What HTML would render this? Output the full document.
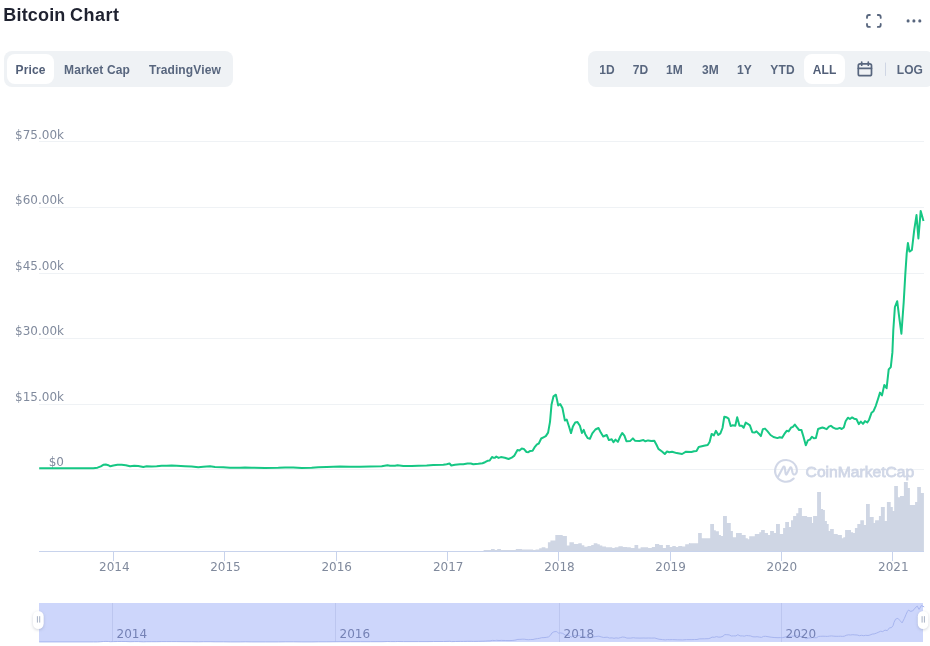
<!DOCTYPE html>
<html lang="en"><head><meta charset="utf-8"><title>Bitcoin Chart</title>
<style>
html,body{margin:0;padding:0;background:#fff;}
body{width:930px;height:646px;position:relative;overflow:hidden;font-family:"Liberation Sans",Arial,sans-serif;}
h2{position:absolute;left:3.3px;top:3px;word-spacing:-0.7px;margin:0;font-size:18px;line-height:24px;font-weight:700;color:#1f2230;letter-spacing:0.17px;white-space:nowrap;}
.grp{position:absolute;top:51px;height:36px;background:#eff2f5;border-radius:8px;}
.grp span{position:absolute;top:3px;height:30px;line-height:32px;letter-spacing:.12px;font-size:12px;font-weight:700;color:#58667e;white-space:nowrap;text-align:center;}
.grp span.sel{background:#fff;border-radius:8px;color:#525f78;}
.tools{position:absolute;left:0;top:0;}
svg text{font-family:"DejaVu Sans","Liberation Sans",sans-serif;font-size:12px;fill:#808a9d;}
svg text.nl{fill:#7582b5;}
</style></head><body>
<h2>Bitcoin <span style="letter-spacing:.5px">Chart</span></h2>
<div class="grp" style="left:4px;width:229px;">
<span class="sel" style="left:3px;width:47px;">Price</span>
<span style="left:50px;width:86px;">Market Cap</span>
<span style="left:136px;width:90px;">TradingView</span>
</div>
<div class="grp" style="left:588px;width:346px;">
<span style="left:4px;width:30px;">1D</span>
<span style="left:37px;width:31px;">7D</span>
<span style="left:70px;width:33px;">1M</span>
<span style="left:105px;width:35px;">3M</span>
<span style="left:141px;width:31px;">1Y</span>
<span style="left:174px;width:41px;">YTD</span>
<span class="sel" style="left:216px;width:41px;">ALL</span>
<span style="left:293.4px;width:57px;">LOG</span>
</div>
<svg class="tools" width="930" height="100" viewBox="0 0 930 100" fill="none" stroke="#58667e" stroke-width="1.7" stroke-linecap="round" stroke-linejoin="round">
<path stroke-width="1.8" d="M867 17.900V17a2 2 0 0 1 2-2H869.900M877.800 15H878.700a2 2 0 0 1 2 2V17.900M880.700 24V24.900a2 2 0 0 1-2 2H877.800M869.900 26.900H869a2 2 0 0 1-2-2V24"/>
<g fill="#58667e" stroke="none"><circle cx="908.1" cy="20.9" r="1.55"/><circle cx="913.9" cy="20.9" r="1.55"/><circle cx="919.8" cy="20.9" r="1.55"/></g>
<rect x="858.3" y="63.800" width="13.200" height="11.900" rx="1.800"/>
<path d="M858.300 68.300h13.200M861.700 62v3.200M868.300 62v3.200"/>
<line x1="885.5" x2="885.5" y1="63" y2="75.5" stroke="#cfd6e4" stroke-width="1"/>
</svg>
<svg style="position:absolute;left:0;top:0" width="930" height="646" viewBox="0 0 930 646">
<g stroke="#eff2f5" stroke-width="1" shape-rendering="crispEdges"><line x1="39" x2="923.5" y1="141.5" y2="141.5"/><line x1="39" x2="923.5" y1="207.5" y2="207.5"/><line x1="39" x2="923.5" y1="273.5" y2="273.5"/><line x1="39" x2="923.5" y1="338.5" y2="338.5"/><line x1="39" x2="923.5" y1="404.5" y2="404.5"/><line x1="39" x2="923.5" y1="469.5" y2="469.5"/></g>
<g><text x="64" y="139" text-anchor="end">$75.00k</text><text x="64" y="204" text-anchor="end">$60.00k</text><text x="64" y="270" text-anchor="end">$45.00k</text><text x="64" y="335" text-anchor="end">$30.00k</text><text x="64" y="401" text-anchor="end">$15.00k</text><text x="64" y="466" text-anchor="end">$0</text></g>
<path d="M483.6 551 V549.9 H491.0 V549.1 H494.7 V549.9 H497.2 V549.1 H500.9 V550.1 H515.8 V549.1 H521.9 V549.4 H533.1 V549.9 H535.5 V549.4 H539.2 V548.2 H541.7 V547.2 H545.4 V548.2 H547.9 V542.2 H550.4 V540.5 H555.3 V535.0 H562.7 V536.0 H566.9 V545.4 H569.4 V542.2 H573.9 V543.9 H578.3 V543.2 H581.8 V545.2 H584.3 V546.7 H587.5 V545.9 H591.2 V544.9 H593.7 V543.2 H597.4 V544.2 H599.8 V545.4 H602.3 V546.4 H606.0 V547.2 H612.2 V547.9 H614.7 V547.2 H618.4 V546.2 H622.8 V546.9 H627.0 V547.2 H630.8 V547.9 H634.5 V544.9 H638.2 V548.4 H640.6 V547.2 H648.1 V547.9 H651.8 V546.9 H655.0 V543.9 H659.2 V544.9 H662.9 V547.9 H665.9 V544.9 H669.8 V546.9 H672.3 V545.9 H675.8 V546.9 H678.2 V545.9 H682.2 V546.4 H685.2 V544.2 H688.9 V543.0 H690.0 V543.2 H698.1 V533.1 H701.8 V538.3 H710.2 V524.1 H714.0 V530.2 H715.8 V531.3 H718.9 V535.1 H720.9 V536.1 H723.0 V516.1 H726.9 V523.1 H730.8 V531.0 H732.9 V537.2 H736.0 V533.1 H741.8 V535.1 H745.7 V538.3 H747.8 V539.3 H749.2 V536.2 H754.8 V534.1 H759.3 V532.2 H761.1 V530.1 H764.8 V533.1 H768.0 V535.1 H770.1 V531.0 H773.9 V533.1 H776.0 V524.1 H779.9 V534.1 H783.1 V528.1 H785.2 V522.1 H789.0 V527.1 H791.0 V520.2 H793.1 V516.1 H796.2 V513.2 H798.3 V508.0 H801.9 V516.1 H805.0 V516.1 H807.1 V517.1 H812.0 V523.1 H813.1 V516.1 H817.1 V492.0 H821.0 V509.0 H823.1 V510.1 H824.9 V521.1 H826.9 V524.1 H828.7 V531.0 H830.1 V529.1 H833.8 V534.1 H837.7 V535.1 H841.9 V538.3 H843.3 V537.2 H845.1 V530.1 H851.0 V532.2 H853.1 V533.1 H854.9 V528.1 H857.3 V524.1 H860.3 V520.2 H863.9 V525.0 H866.0 V504.1 H869.8 V517.1 H873.7 V523.1 H875.1 V520.2 H878.9 V516.1 H880.9 V507.1 H884.8 V521.1 H886.9 V502.1 H890.7 V507.1 H892.8 V511.1 H894.2 V486.0 H897.9 V497.2 H900.0 V496.1 H903.9 V482.1 H907.8 V488.1 H909.9 V505.1 H915.1 V502.1 H917.2 V487.0 H920.9 V493.0 H923.9 V551 Z" fill="#cfd6e4"/>
<path d="M777.7 477.600L783 467.400Q784.100 465.400 784.800 467.600L785.600 473.600Q786 475.600 787 473.700L789.800 468.200Q790.900 466.200 791.600 468.400L792.400 472.300Q793.300 475.400 795.400 474.100Q796.900 472.800 796.900 470.900A10.900 10.900 0 1 0 793.700 478.600" fill="none" stroke="#cdd4e5" stroke-width="2.100" stroke-linecap="round" stroke-linejoin="round" opacity=".92"/>
<text x="805.6" y="476.900" textLength="108.600" lengthAdjust="spacingAndGlyphs" style="font-family:'Liberation Sans',sans-serif;font-weight:400;font-size:15.500px;fill:#cdd4e5;stroke:#cdd4e5;stroke-width:.8px;opacity:.92">CoinMarketCap</text>
<path d="M39.2 468.2 L93.3 468.2 L97.5 467.7 L100.8 466.3 L103.3 464.8 L105.8 464.5 L108.3 465.2 L110.3 466.3 L113.3 465.5 L117.5 464.8 L121.7 464.8 L125.8 465.3 L130.0 466.2 L134.2 465.7 L138.3 466.0 L143.3 467.0 L146.7 466.3 L151.7 466.5 L156.7 466.2 L161.7 465.7 L166.7 465.8 L171.7 465.5 L176.7 465.8 L185.0 466.2 L191.7 466.5 L198.3 467.2 L203.3 466.8 L210.0 466.3 L215.0 467.0 L223.3 467.2 L230.0 467.8 L240.0 467.8 L245.0 467.5 L251.7 467.8 L265.0 468.0 L278.3 467.8 L285.0 467.5 L293.3 467.5 L301.7 468.0 L311.7 467.8 L318.3 467.2 L326.7 467.0 L340.0 466.5 L350.0 466.7 L360.0 466.7 L370.0 466.5 L381.7 466.2 L387.5 465.3 L390.0 465.8 L395.0 465.7 L397.5 465.3 L403.3 466.0 L411.7 466.0 L418.3 465.7 L426.7 465.5 L433.3 465.0 L443.3 464.8 L446.7 464.3 L449.5 463.5 L451.3 465.5 L455.0 464.8 L460.0 464.2 L463.3 464.2 L467.5 463.5 L470.8 463.5 L473.3 464.3 L478.3 463.8 L482.5 463.2 L485.0 462.2 L487.5 460.8 L489.7 460.5 L492.0 457.0 L493.7 457.8 L495.0 457.7 L496.3 456.6 L498.6 457.9 L500.9 457.1 L504.8 457.7 L508.6 459.0 L511.7 457.7 L514.4 455.6 L517.5 450.0 L519.5 450.5 L521.8 448.6 L523.8 448.9 L526.5 452.0 L528.3 452.2 L530.3 450.9 L532.6 450.8 L534.5 447.4 L537.0 444.3 L538.8 443.5 L541.2 438.5 L543.5 437.3 L545.8 436.1 L548.1 432.6 L550.0 421.8 L551.5 404.8 L553.5 396.3 L555.9 394.7 L557.1 400.1 L558.2 405.5 L560.2 404.0 L562.4 407.9 L564.9 420.6 L566.7 419.5 L569.0 426.5 L571.0 433.1 L572.9 426.5 L575.2 422.6 L577.5 422.1 L579.9 425.7 L581.9 433.0 L583.7 429.9 L585.3 434.2 L587.6 438.1 L589.9 438.8 L592.3 433.4 L595.4 429.5 L598.5 428.0 L600.8 432.6 L603.2 436.5 L606.7 435.0 L608.9 440.1 L611.7 439.3 L613.5 442.2 L615.5 439.6 L617.9 441.9 L620.2 436.5 L622.2 433.0 L624.4 435.7 L626.4 441.2 L630.3 440.9 L632.9 438.4 L634.9 440.7 L639.5 440.9 L643.4 440.1 L645.4 441.3 L648.1 440.4 L651.2 440.9 L654.3 440.7 L656.6 445.0 L658.4 448.9 L662.0 451.5 L664.8 454.0 L667.0 451.5 L669.3 452.3 L672.1 451.7 L676.7 453.1 L682.1 454.0 L686.0 451.7 L691.4 452.0 L694.1 451.2 L696.5 450.9 L698.7 446.9 L703.9 445.8 L707.7 445.0 L709.6 441.9 L711.6 433.9 L713.9 435.4 L715.9 430.8 L718.3 435.0 L720.4 433.4 L722.5 428.0 L724.3 416.7 L726.3 417.2 L728.6 418.7 L730.7 426.1 L732.8 425.2 L735.3 425.7 L737.2 417.2 L739.5 425.7 L741.8 425.7 L743.7 427.7 L745.7 422.6 L747.7 423.8 L749.9 425.4 L752.3 432.2 L754.5 432.6 L756.5 431.4 L758.8 433.7 L760.9 436.1 L762.9 429.1 L765.0 428.6 L767.4 431.1 L770.5 435.0 L773.5 437.0 L777.4 438.1 L779.7 437.3 L782.1 437.8 L784.4 433.9 L786.7 430.8 L788.6 431.4 L791.0 427.7 L792.9 426.8 L794.8 424.6 L796.8 427.2 L799.1 430.0 L801.4 429.9 L803.4 436.5 L805.8 445.3 L807.9 440.4 L809.9 439.6 L811.9 436.8 L813.9 438.3 L815.9 437.9 L818.1 429.0 L820.1 428.3 L822.4 427.5 L824.7 428.3 L826.7 429.2 L828.9 426.7 L830.9 425.8 L833.2 427.6 L835.5 428.7 L837.9 428.7 L839.7 427.9 L841.7 429.0 L843.8 427.5 L845.6 421.3 L847.9 417.7 L849.9 419.0 L852.1 417.4 L854.1 418.7 L856.5 419.3 L858.8 424.1 L860.8 421.6 L863.0 423.9 L865.0 421.1 L867.3 422.5 L869.1 419.7 L871.5 412.8 L873.5 411.2 L875.8 405.8 L878.1 398.8 L880.0 392.6 L882.0 395.4 L884.3 384.9 L886.6 388.3 L888.7 369.4 L890.8 367.1 L892.4 352.4 L893.3 330.2 L894.9 307.0 L897.2 301.2 L899.1 316.3 L901.4 333.7 L903.7 302.3 L905.3 274.4 L906.7 253.5 L907.9 243.0 L909.5 251.6 L911.9 250.0 L914.2 230.2 L916.5 215.1 L918.4 238.4 L920.7 210.9 L923.5 220.9" fill="none" stroke="#16c784" stroke-width="2" stroke-linejoin="round" stroke-linecap="butt"/>
<g stroke="#c8d3ec" stroke-width="1" shape-rendering="crispEdges"><line x1="39" x2="924" y1="551.500" y2="551.500"/><line x1="113.5" x2="113.5" y1="551" y2="561"/><line x1="224.5" x2="224.5" y1="551" y2="561"/><line x1="336.5" x2="336.5" y1="551" y2="561"/><line x1="447.5" x2="447.5" y1="551" y2="561"/><line x1="558.5" x2="558.5" y1="551" y2="561"/><line x1="670.5" x2="670.5" y1="551" y2="561"/><line x1="781.5" x2="781.5" y1="551" y2="561"/><line x1="892.5" x2="892.5" y1="551" y2="561"/></g>
<g><text x="114.3" y="571" text-anchor="middle">2014</text><text x="225.5" y="571" text-anchor="middle">2015</text><text x="336.7" y="571" text-anchor="middle">2016</text><text x="448.2" y="571" text-anchor="middle">2017</text><text x="559.4" y="571" text-anchor="middle">2018</text><text x="670.6" y="571" text-anchor="middle">2019</text><text x="781.8" y="571" text-anchor="middle">2020</text><text x="893.3" y="571" text-anchor="middle">2021</text></g>
<rect x="39" y="603" width="884" height="39" fill="#cdd6fb"/>
<g stroke="#bcc6ef" stroke-width="1" shape-rendering="crispEdges"><line x1="112.5" x2="112.5" y1="603" y2="642"/><line x1="335.5" x2="335.5" y1="603" y2="642"/><line x1="559.5" x2="559.5" y1="603" y2="642"/><line x1="781.5" x2="781.5" y1="603" y2="642"/></g>
<path d="M39.2 641.9 L93.3 641.9 L97.5 641.9 L100.8 641.7 L103.4 641.5 L105.9 641.4 L108.4 641.5 L110.4 641.7 L113.4 641.6 L117.6 641.5 L121.8 641.5 L125.9 641.5 L130.1 641.7 L134.3 641.6 L138.4 641.6 L143.4 641.8 L146.8 641.7 L151.8 641.7 L156.8 641.7 L161.8 641.6 L166.8 641.6 L171.8 641.6 L176.8 641.6 L185.1 641.7 L191.8 641.7 L198.4 641.8 L203.4 641.7 L210.1 641.7 L215.1 641.8 L223.4 641.8 L230.2 641.9 L240.2 641.9 L245.2 641.8 L251.9 641.9 L265.2 641.9 L278.5 641.9 L285.2 641.8 L293.5 641.8 L301.9 641.9 L311.9 641.9 L318.5 641.8 L326.9 641.8 L340.2 641.7 L350.2 641.7 L360.3 641.7 L370.3 641.7 L382.0 641.7 L387.8 641.5 L390.3 641.6 L395.3 641.6 L397.8 641.5 L403.6 641.6 L412.0 641.6 L418.6 641.6 L427.0 641.6 L433.6 641.5 L443.6 641.5 L447.0 641.4 L449.8 641.3 L451.6 641.6 L455.3 641.5 L460.3 641.4 L463.6 641.4 L467.8 641.3 L471.1 641.3 L473.6 641.4 L478.7 641.3 L482.9 641.2 L485.4 641.1 L487.9 640.9 L490.1 640.9 L492.4 640.4 L494.1 640.5 L495.4 640.5 L496.7 640.3 L499.0 640.5 L501.3 640.4 L505.2 640.5 L509.0 640.6 L512.1 640.5 L514.8 640.2 L517.9 639.4 L519.9 639.4 L522.2 639.2 L524.2 639.2 L526.9 639.6 L528.7 639.7 L530.7 639.5 L533.0 639.5 L534.9 639.0 L537.4 638.6 L539.2 638.4 L541.6 637.7 L543.9 637.6 L546.2 637.4 L548.5 636.9 L550.4 635.4 L551.9 633.0 L553.9 631.8 L556.3 631.5 L557.5 632.3 L558.6 633.1 L560.6 632.9 L562.8 633.4 L565.3 635.2 L567.1 635.0 L569.4 636.0 L571.4 637.0 L573.3 636.0 L575.6 635.5 L577.9 635.4 L580.3 635.9 L582.3 637.0 L584.1 636.5 L585.7 637.1 L588.0 637.7 L590.3 637.8 L592.7 637.0 L595.8 636.5 L598.9 636.2 L601.2 636.9 L603.7 637.5 L607.2 637.2 L609.4 638.0 L612.2 637.9 L614.0 638.3 L616.0 637.9 L618.4 638.2 L620.7 637.5 L622.7 637.0 L624.9 637.3 L626.9 638.1 L630.8 638.1 L633.4 637.7 L635.4 638.0 L640.0 638.1 L643.9 638.0 L645.9 638.1 L648.6 638.0 L651.7 638.1 L654.8 638.0 L657.1 638.7 L658.9 639.2 L662.5 639.6 L665.3 639.9 L667.5 639.6 L669.8 639.7 L672.6 639.6 L677.2 639.8 L682.6 639.9 L686.5 639.6 L691.9 639.6 L694.6 639.5 L697.0 639.5 L699.2 638.9 L704.4 638.8 L708.2 638.7 L710.1 638.2 L712.1 637.1 L714.4 637.3 L716.4 636.6 L718.8 637.2 L720.9 637.0 L723.0 636.2 L724.8 634.6 L726.8 634.7 L729.2 634.9 L731.3 636.0 L733.4 635.9 L735.9 635.9 L737.8 634.7 L740.1 635.9 L742.4 635.9 L744.3 636.2 L746.3 635.5 L748.3 635.7 L750.5 635.9 L752.9 636.8 L755.1 636.9 L757.1 636.7 L759.4 637.1 L761.5 637.4 L763.5 636.4 L765.6 636.3 L768.0 636.7 L771.1 637.2 L774.1 637.5 L778.0 637.7 L780.3 637.6 L782.7 637.6 L785.0 637.1 L787.3 636.6 L789.2 636.7 L791.6 636.2 L793.5 636.1 L795.4 635.8 L797.4 636.1 L799.7 636.5 L802.0 636.5 L804.0 637.5 L806.4 638.7 L808.5 638.0 L810.5 637.9 L812.5 637.5 L814.5 637.7 L816.5 637.7 L818.7 636.4 L820.7 636.3 L823.0 636.2 L825.3 636.3 L827.3 636.4 L829.5 636.1 L831.5 635.9 L833.8 636.2 L836.1 636.3 L838.5 636.3 L840.3 636.2 L842.3 636.4 L844.4 636.2 L846.2 635.3 L848.5 634.8 L850.5 635.0 L852.8 634.7 L854.8 634.9 L857.2 635.0 L859.5 635.7 L861.5 635.3 L863.7 635.7 L865.7 635.3 L868.0 635.5 L869.8 635.1 L872.2 634.1 L874.2 633.9 L876.5 633.1 L878.8 632.1 L880.7 631.2 L882.7 631.6 L885.0 630.1 L887.3 630.6 L889.4 627.9 L891.5 627.6 L893.1 625.5 L894.0 622.4 L895.6 619.1 L897.9 618.3 L899.8 620.4 L902.1 622.9 L904.4 618.4 L906.0 614.5 L907.4 611.5 L908.6 610.0 L910.2 611.3 L912.6 611.0 L914.9 608.2 L917.2 606.1 L919.1 609.4 L921.4 605.5 L924.2 606.9" fill="none" stroke="#a7b5ef" stroke-width="1"/>
<g style="fill:#7f8bb5"><text class="nl" x="116.5" y="638">2014</text><text class="nl" x="339.5" y="638">2016</text><text class="nl" x="563.5" y="638">2018</text><text class="nl" x="785.5" y="638">2020</text></g>
<g style="filter:drop-shadow(0 1px 1.5px rgba(88,102,126,.28))">
<rect x="32.900" y="611" width="10.800" height="18" rx="5.400" fill="#fff"/>
<rect x="917.800" y="611" width="10.600" height="18" rx="5.300" fill="#fff"/>
</g>
<path d="M37.4 616.2v6.400M39.700 616.200v6.400M922.100 616.200v6.400M924.400 616.200v6.400" stroke="#a6b0c3" stroke-width="1"/>

</svg>
</body></html>
